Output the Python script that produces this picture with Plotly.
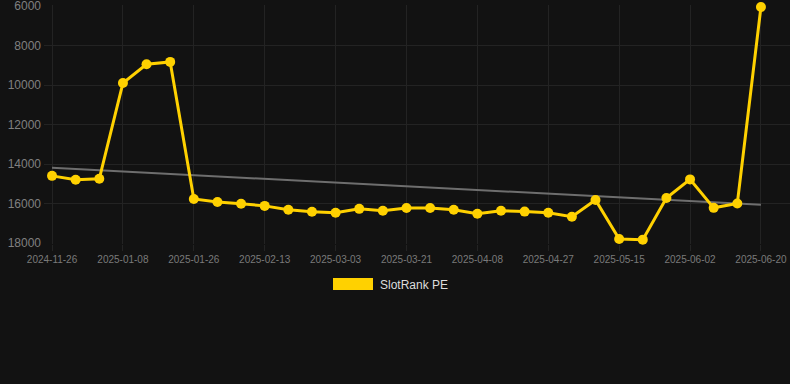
import numpy as np
import plotly.graph_objects as go

dates = [
    "2024-11-26", "2024-12-10", "2024-12-24", "2025-01-08", "2025-01-14", "2025-01-20",
    "2025-01-26", "2025-02-01", "2025-02-07", "2025-02-13", "2025-02-19", "2025-02-25",
    "2025-03-03", "2025-03-09", "2025-03-15", "2025-03-21", "2025-03-27", "2025-04-02",
    "2025-04-08", "2025-04-14", "2025-04-21", "2025-04-27", "2025-05-03", "2025-05-09",
    "2025-05-15", "2025-05-21", "2025-05-27", "2025-06-02", "2025-06-08", "2025-06-14",
    "2025-06-20",
]
pe_values = [
    14600, 14800, 14750, 9900, 8950, 8830, 15770, 15920, 16010, 16120,
    16320, 16420, 16470, 16270, 16370, 16230, 16230, 16320, 16520, 16370,
    16410, 16470, 16670, 15820, 17800, 17830, 15720, 14780, 16220, 16000,
    6050,
]
y_ticks = [6000, 8000, 10000, 12000, 14000, 16000, 18000]
x_tick_labels = dates[::3]

series_name = "SlotRank PE"
yellow = "#FFD100"
bg = "#121212"
grid = "#232323"

idx = np.arange(len(pe_values))
slope, intercept = np.polyfit(idx, pe_values, 1)
trend = slope * idx + intercept

fig = go.Figure()
fig.add_trace(go.Scatter(
    x=dates, y=trend, mode="lines",
    line=dict(color="#6e6e6e", width=2),
    showlegend=False, hoverinfo="skip",
))
fig.add_trace(go.Scatter(
    x=dates, y=pe_values, mode="lines+markers",
    line=dict(color=yellow, width=3),
    marker=dict(color=yellow, size=10),
    name=series_name, showlegend=False, cliponaxis=False,
))

# plot area: x 44..790 px, y 5..244 px
L, R, T, B = 44, 790, 5, 244
W, H = R - L, B - T
def px(x):
    return (x - L) / W
def py(y):
    return (B - y) / H

fig.add_shape(type="rect", xref="paper", yref="paper",
              x0=px(333), x1=px(373), y0=py(290), y1=py(278),
              fillcolor=yellow, line=dict(width=0))
fig.add_annotation(xref="paper", yref="paper", x=px(378), y=py(284.5),
                   xanchor="left", yanchor="middle", showarrow=False,
                   text=series_name, font=dict(size=12, color="#dddddd"))

fig.update_layout(
    width=790, height=384,
    paper_bgcolor=bg, plot_bgcolor=bg,
    margin=dict(l=L, r=0, t=T, b=384 - B),
    font=dict(family="Liberation Sans, Arial, sans-serif", color="#808080"),
    showlegend=False,
    xaxis=dict(
        type="category", categoryorder="array", categoryarray=dates,
        range=[-0.34, 31.23],
        tickmode="array", tickvals=x_tick_labels, ticktext=x_tick_labels,
        tickfont=dict(size=10, color="#7a7a7a"),
        showgrid=True, gridcolor=grid, gridwidth=1,
        ticks="outside", ticklen=6, tickcolor=grid,
        zeroline=False, showline=False, tickangle=0,
        ticklabeloverflow="allow",
    ),
    yaxis=dict(
        range=[18050, 5950], tickmode="array", tickvals=y_ticks,
        ticktext=[str(v) for v in y_ticks],
        tickfont=dict(size=12, color="#808080"),
        showgrid=True, gridcolor=grid, gridwidth=1,
        zeroline=False, showline=False, ticks="", ticklabelstandoff=2,
        ticklabeloverflow="allow",
    ),
)

fig.write_html("out.html", config={"displayModeBar": False},
               post_script="document.body.style.margin='0';")
